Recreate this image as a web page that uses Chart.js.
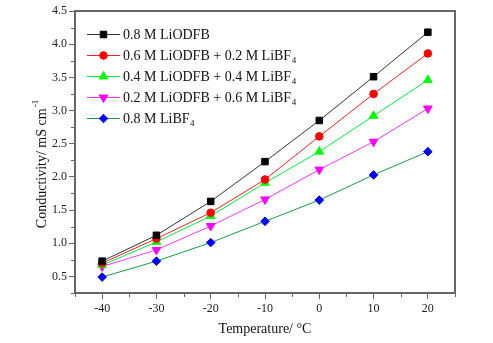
<!DOCTYPE html>
<html><head><meta charset="utf-8">
<script src="https://cdn.jsdelivr.net/npm/chart.js@4"></script>
<style>html,body{margin:0;padding:0;background:#fff}</style>
</head><body>
<canvas id="c" width="493" height="343" style="width:493px;height:343px;display:block"></canvas>
<script>
// ---- data ----
const temperatures = [-40, -30, -20, -10, 0, 10, 20];
const seriesLabels = [
  '0.8 M LiODFB',
  '0.6 M LiODFB + 0.2 M LiBF\u2084',
  '0.4 M LiODFB + 0.4 M LiBF\u2084',
  '0.2 M LiODFB + 0.6 M LiBF\u2084',
  '0.8 M LiBF\u2084'
];
const liodfb08 = [0.73, 1.12, 1.63, 2.23, 2.85, 3.51, 4.18];
const mix0602 = [0.70, 1.07, 1.46, 1.96, 2.61, 3.25, 3.86];
const mix0404 = [0.67, 1.02, 1.41, 1.91, 2.38, 2.92, 3.46];
const mix0206 = [0.65, 0.90, 1.26, 1.66, 2.11, 2.53, 3.03];
const libf408 = [0.49, 0.73, 1.01, 1.33, 1.65, 2.03, 2.38];
const xTickValues = [-40, -30, -20, -10, 0, 10, 20];
const yTickValues = [0.5, 1.0, 1.5, 2.0, 2.5, 3.0, 3.5, 4.0, 4.5];
const xMinorValues = [-45, -35, -25, -15, -5, 5, 15, 25];
const yMinorValues = [0.25, 0.75, 1.25, 1.75, 2.25, 2.75, 3.25, 3.75, 4.25];

// ---- styles ----
const SERIF = "'Liberation Serif', 'Times New Roman', serif";
const AXIS = '#666';
const styles = [
  {line: '#333333', fill: '#000000', shape: 'rect', r: 4.6, rot: 0},
  {line: '#ff2020', fill: '#ff0000', shape: 'circle', r: 3.8, rot: 0},
  {line: '#00ee44', fill: '#00ff00', shape: 'triangle', r: 5, rot: 0},
  {line: '#ff33ff', fill: '#ff00ff', shape: 'triangle', r: 5, rot: 180},
  {line: '#1a9a4a', fill: '#0000ff', shape: 'rectRot', r: 4.3, rot: 0}
];
const seriesValues = [liodfb08, mix0602, mix0404, mix0206, libf408];

const datasets = seriesValues.map((vals, i) => ({
  label: seriesLabels[i],
  data: temperatures.map((t, j) => ({x: t, y: vals[j]})),
  borderColor: styles[i].line,
  borderWidth: 1,
  backgroundColor: styles[i].fill,
  pointBackgroundColor: styles[i].fill,
  pointBorderColor: styles[i].fill,
  pointBorderWidth: 1,
  pointStyle: styles[i].shape,
  pointRadius: styles[i].r,
  pointRotation: styles[i].rot,
  pointHoverRadius: styles[i].r,
  tension: 0,
  fill: false,
  clip: false
}));

function drawMarker(ctx, shape, r, rot, x, y, color) {
  ctx.save();
  ctx.fillStyle = color; ctx.strokeStyle = color; ctx.lineWidth = 1;
  ctx.translate(x, y);
  ctx.rotate(rot * Math.PI / 180);
  ctx.beginPath();
  if (shape === 'rect') {
    const s = Math.SQRT1_2 * r; ctx.rect(-s, -s, 2 * s, 2 * s);
  } else if (shape === 'circle') {
    ctx.arc(0, 0, r, 0, Math.PI * 2);
  } else if (shape === 'triangle') {
    ctx.moveTo(0, -r);
    ctx.lineTo(r * Math.sin(Math.PI * 2 / 3), r / 2);
    ctx.lineTo(-r * Math.sin(Math.PI * 2 / 3), r / 2);
    ctx.closePath();
  } else if (shape === 'rectRot') {
    ctx.moveTo(0, -r); ctx.lineTo(r, 0); ctx.lineTo(0, r); ctx.lineTo(-r, 0); ctx.closePath();
  }
  ctx.fill(); ctx.stroke();
  ctx.restore();
}

function drawRichText(ctx, text, x, y, size) {
  // handles subscript ₄ and superscript ⁻¹
  let cx = x;
  const parts = text.split(/(\u2084|\u207B\u00B9)/);
  parts.forEach(p => {
    if (!p) return;
    if (p === '\u2084') {
      ctx.font = Math.round(size * 0.62) + 'px ' + SERIF;
      ctx.fillText('4', cx + 0.5, y + size * 0.33);
      cx += ctx.measureText('4').width + 0.5;
    } else if (p === '\u207B\u00B9') {
      ctx.font = Math.round(size * 0.62) + 'px ' + SERIF;
      ctx.fillText('-1', cx + 1, y - size * 0.42);
      cx += ctx.measureText('-1').width + 1;
    } else {
      ctx.font = size + 'px ' + SERIF;
      ctx.fillText(p, cx, y);
      cx += ctx.measureText(p).width;
    }
  });
  return cx - x;
}
function richWidth(ctx, text, size) {
  let w = 0;
  text.split(/(\u2084|\u207B\u00B9)/).forEach(p => {
    if (!p) return;
    if (p === '\u2084') { ctx.font = Math.round(size * 0.62) + 'px ' + SERIF; w += ctx.measureText('4').width + 0.5; }
    else if (p === '\u207B\u00B9') { ctx.font = Math.round(size * 0.62) + 'px ' + SERIF; w += ctx.measureText('-1').width + 1; }
    else { ctx.font = size + 'px ' + SERIF; w += ctx.measureText(p).width; }
  });
  return w;
}

const yTitleText = 'Conductivity/ mS cm\u207B\u00B9';

const decorPlugin = {
  id: 'decor',
  afterDraw(chart) {
    const ctx = chart.ctx;
    const a = chart.chartArea;
    const xs = chart.scales.x, ys = chart.scales.y;
    ctx.save();
    // frame top & right
    ctx.strokeStyle = AXIS; ctx.lineWidth = 2;
    ctx.beginPath();
    ctx.moveTo(a.left, a.top); ctx.lineTo(a.right, a.top); ctx.lineTo(a.right, a.bottom);
    ctx.stroke();
    // minor ticks
    ctx.lineWidth = 1;
    ctx.beginPath();
    xMinorValues.forEach(v => {
      const px = Math.round(xs.getPixelForValue(v)) + 0.5;
      ctx.moveTo(px, a.bottom); ctx.lineTo(px, a.bottom + 4);
    });
    yMinorValues.forEach(v => {
      const py = Math.round(ys.getPixelForValue(v)) + 0.5;
      ctx.moveTo(a.left - 4, py); ctx.lineTo(a.left, py);
    });
    ctx.stroke();

    // legend
    ctx.textBaseline = 'middle';
    ctx.textAlign = 'left';
    chart.data.datasets.forEach((ds, i) => {
      const y = 34 + i * 21;
      ctx.strokeStyle = ds.borderColor; ctx.lineWidth = 1;
      ctx.beginPath(); ctx.moveTo(87, y + 0.5); ctx.lineTo(120, y + 0.5); ctx.stroke();
      drawMarker(ctx, styles[i].shape, styles[i].r, styles[i].rot, 103.5, y + 0.5, styles[i].fill);
      ctx.fillStyle = '#111';
      drawRichText(ctx, ds.label, 123, y + 1, 14);
    });

    // y title
    ctx.save();
    ctx.translate(42, 164);
    ctx.rotate(-Math.PI / 2);
    ctx.fillStyle = '#111';
    ctx.textBaseline = 'middle';
    const w = richWidth(ctx, yTitleText, 14);
    drawRichText(ctx, yTitleText, -w / 2, 0, 14);
    ctx.restore();
    ctx.restore();
  }
};

new Chart(document.getElementById('c'), {
  type: 'line',
  data: {datasets},
  options: {
    responsive: false,
    devicePixelRatio: 1,
    animation: false,
    events: [],
    layout: {padding: {top: 11, right: 38, left: 0, bottom: 0}},
    plugins: {legend: {display: false}, tooltip: {enabled: false}, title: {display: false}},
    scales: {
      x: {
        type: 'linear',
        min: -45, max: 25,
        afterBuildTicks: s => { s.ticks = xTickValues.map(v => ({value: v})); },
        afterFit: s => { s.height = 50; },
        border: {display: true, color: AXIS, width: 2},
        grid: {display: true, drawOnChartArea: false, drawTicks: true, tickLength: 6, tickColor: AXIS, tickWidth: 1},
        ticks: {color: '#222', font: {family: SERIF, size: 12}, padding: 3, maxRotation: 0, callback: v => String(v)},
        title: {display: true, text: 'Temperature/ \u00B0C', color: '#111', font: {family: SERIF, size: 14}, padding: {top: 0, bottom: 5}}
      },
      y: {
        type: 'linear',
        min: 0.25, max: 4.5,
        afterBuildTicks: s => { s.ticks = yTickValues.map(v => ({value: v})); },
        afterFit: s => { s.width = 75; },
        border: {display: true, color: AXIS, width: 2},
        grid: {display: true, drawOnChartArea: false, drawTicks: true, tickLength: 6, tickColor: AXIS, tickWidth: 1},
        ticks: {color: '#222', font: {family: SERIF, size: 12}, padding: 2, callback: v => Number(v).toFixed(1)}
      }
    }
  },
  plugins: [decorPlugin]
});
</script>
</body></html>
